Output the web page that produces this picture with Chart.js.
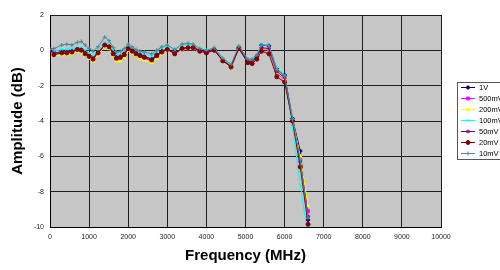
<!DOCTYPE html>
<html>
<head>
<meta charset="utf-8">
<script src="https://cdn.jsdelivr.net/npm/chart.js@4.4.0/dist/chart.umd.min.js"></script>
<style>
  html, body { margin: 0; padding: 0; background: #fff; }
  canvas { display: block; }
</style>
</head>
<body>
<canvas id="chartAmplitud" width="500" height="270"></canvas>
<script>
// frequency points (MHz)
const frequencies = [0, 100, 300, 430, 560, 700, 800, 900, 1000, 1100, 1230, 1400, 1510, 1620, 1700, 1800, 1900,
    2000, 2100, 2200, 2300, 2410, 2600, 2730, 2860, 3000, 3190, 3380, 3530, 3660, 3830, 4000, 4200, 4420, 4630,
    4830, 5060, 5170, 5290, 5410, 5600, 5800, 6000, 6200, 6400, 6600];

// amplitude (dB) per input level
const amp1V = [0, -0.15, -0.1, -0.1, -0.05, 0.05, 0.05, -0.15, -0.3, -0.45, -0.1, 0.3, 0.2, -0.15, -0.4, -0.35, -0.2,
    0.1, 0, -0.15, -0.25, -0.35, -0.5, -0.25, -0.05, 0.05, -0.15, 0.1, 0.15, 0.15, 0, -0.1, 0.05, -0.55, -0.9,
    0.15, -0.6, -0.6, -0.35, 0.3, 0.25, -1.05, -1.4, -3.85, -5.7, -9.6];
const amp500mV = [0, -0.2, -0.15, -0.15, -0.1, 0, 0, -0.2, -0.35, -0.5, -0.15, 0.25, 0.15, -0.25, -0.5, -0.45, -0.3,
    0.05, -0.05, -0.25, -0.35, -0.45, -0.6, -0.35, -0.1, 0, -0.2, 0.05, 0.1, 0.1, -0.05, -0.15, 0, -0.6, -0.95,
    0.1, -0.7, -0.7, -0.45, 0.1, 0.05, -1.3, -1.65, -4.0, -6.1, -9.1];
const amp200mV = [0, -0.3, -0.25, -0.25, -0.2, -0.05, -0.1, -0.3, -0.45, -0.6, -0.25, 0.2, 0.1, -0.3, -0.6, -0.6, -0.4,
    0, -0.15, -0.3, -0.45, -0.55, -0.7, -0.45, -0.2, 0, -0.2, 0.05, 0.1, 0.1, -0.05, -0.15, 0, -0.65, -1.0,
    0.2, -0.7, -0.7, -0.5, 0.05, 0.1, -1.25, -1.6, -3.9, -6.0, -8.8];
const amp100mV = [0, -0.05, 0.05, 0.05, 0.1, 0.15, 0.15, 0, -0.15, -0.3, 0, 0.45, 0.35, 0, -0.25, -0.2, -0.05,
    0.25, 0.15, 0, -0.1, -0.2, -0.3, -0.05, 0.15, 0.25, 0, 0.3, 0.35, 0.3, 0.1, 0, 0.1, -0.5, -0.85,
    0.15, -0.6, -0.55, -0.3, 0.35, 0.25, -1.0, -1.4, -4.3, -7.6, -10.6];
const amp50mV = [0, -0.15, -0.1, -0.1, -0.05, 0.05, 0.05, -0.15, -0.3, -0.45, -0.1, 0.3, 0.2, -0.15, -0.4, -0.35, -0.2,
    0.1, 0, -0.15, -0.25, -0.35, -0.5, -0.25, -0.05, 0.05, -0.15, 0.1, 0.15, 0.15, 0, -0.1, 0.05, -0.6, -0.9,
    0.15, -0.65, -0.65, -0.4, 0.15, 0.1, -1.2, -1.55, -3.95, -6.3, -9.4];
const amp20mV = [0, -0.25, -0.15, -0.15, -0.1, 0.05, 0, -0.2, -0.35, -0.5, -0.15, 0.3, 0.2, -0.2, -0.45, -0.4, -0.25,
    0.1, -0.05, -0.2, -0.3, -0.4, -0.55, -0.3, -0.1, 0.05, -0.2, 0.1, 0.15, 0.15, -0.05, -0.15, 0, -0.6, -0.95,
    0.1, -0.7, -0.75, -0.5, -0.05, -0.2, -1.5, -1.8, -4.0, -6.6, -9.85];
const amp10mV = [0.05, 0.1, 0.3, 0.35, 0.3, 0.45, 0.5, 0.3, 0.1, -0.05, 0.2, 0.75, 0.55, 0.15, -0.1, -0.05, 0.1,
    0.35, 0.2, 0.05, -0.05, -0.1, -0.2, 0, 0.2, 0.3, 0.05, 0.35, 0.4, 0.35, 0.1, 0, 0.15, -0.45, -0.8,
    0.25, -0.5, -0.5, -0.25, 0.3, 0.3, -1.1, -1.45, -3.9, -6.2, -9.5];

const seriesLabels = ['1V', '500mV', '200mV', '100mV', '50mV', '20mV', '10mV'];
const seriesValues = [amp1V, amp500mV, amp200mV, amp100mV, amp50mV, amp20mV, amp10mV];

const SERIES_COLORS = ['#000080', '#ff00ff', '#ffff00', '#00ffff', '#800080', '#800000', '#4a8a96'];
const SERIES_POINTS = ['rectRot', 'rect', 'triangle', 'crossRot', 'star', 'circle', 'cross'];

const datasets = seriesLabels.map((label, i) => ({
    label: label,
    data: frequencies.map((f, j) => ({ x: f, y: seriesValues[i][j] })),
    borderColor: SERIES_COLORS[i],
    backgroundColor: SERIES_COLORS[i],
    borderWidth: 1,
    pointStyle: SERIES_POINTS[i],
    pointRadius: 2,
    pointBorderWidth: 1,
    tension: 0,
    order: seriesLabels.length - i   // later series drawn on top, like Excel
}));

const fondoGrafico = {
    id: 'fondoGrafico',
    beforeDraw: (chart) => {
        const { ctx, chartArea: a } = chart;
        ctx.save();
        ctx.fillStyle = '#c6c6c6';
        ctx.fillRect(a.left, a.top, a.right - a.left, a.bottom - a.top);
        ctx.restore();
    }
};

// Excel-style legend: box, line with marker, label
const leyendaCaja = {
    id: 'leyendaCaja',
    afterDraw: (chart) => {
        const ctx = chart.ctx;
        const x0 = 457, y0 = 82, rowH = 11;
        ctx.save();
        ctx.fillStyle = '#fff';
        ctx.fillRect(x0, y0, 50, 77);
        ctx.strokeStyle = '#555';
        ctx.lineWidth = 1;
        ctx.strokeRect(x0 + 0.5, y0 + 0.5, 50, 77);
        ctx.font = '7.5px Arial, "Liberation Sans", sans-serif';
        ctx.textBaseline = 'middle';
        chart.data.datasets.forEach((ds, i) => {
            const y = y0 + 5.5 + i * rowH;
            ctx.strokeStyle = ds.borderColor;
            ctx.fillStyle = ds.backgroundColor;
            ctx.lineWidth = 1;
            ctx.beginPath();
            ctx.moveTo(x0 + 4, y);
            ctx.lineTo(x0 + 18, y);
            ctx.stroke();
            Chart.helpers.drawPoint(ctx, { pointStyle: ds.pointStyle, radius: 2, borderWidth: 1, rotation: 0 }, x0 + 11, y);
            ctx.fillStyle = '#000';
            ctx.fillText(ds.label, x0 + 22, y);
        });
        ctx.restore();
    }
};

const tickFont = { family: 'Arial, "Liberation Sans", sans-serif', size: 7 };
const titleFont = { family: 'Arial, "Liberation Sans", sans-serif', size: 15, weight: 'bold' };

new Chart(document.getElementById('chartAmplitud'), {
    type: 'line',
    data: { datasets: datasets },
    options: {
        responsive: false,
        animation: false,
        layout: { padding: { top: 15, right: 59, left: 0, bottom: 0 } },
        plugins: {
            legend: { display: false },
            tooltip: { enabled: false }
        },
        scales: {
            x: {
                type: 'linear',
                min: 0,
                max: 10000,
                afterFit: (scale) => { scale.height = 43; },
                ticks: { stepSize: 1000, color: '#222', font: tickFont, padding: 6, maxRotation: 0,
                    callback: (v) => String(v) },
                grid: { color: '#1e1e1e', lineWidth: 1, drawTicks: false },
                border: { color: '#000' },
                title: { display: true, text: 'Frequency (MHz)', color: '#000', font: titleFont, padding: { top: 0, bottom: 5 } }
            },
            y: {
                min: -10,
                max: 2,
                afterFit: (scale) => { scale.width = 50; },
                ticks: { stepSize: 2, color: '#222', font: tickFont, padding: 6 },
                grid: { color: '#1e1e1e', lineWidth: 1, drawTicks: false },
                border: { color: '#000' },
                title: { display: true, text: 'Amplitude (dB)', color: '#000', font: titleFont, padding: { top: 9, bottom: 0 } }
            }
        }
    },
    plugins: [fondoGrafico, leyendaCaja]
});
</script>
</body>
</html>
